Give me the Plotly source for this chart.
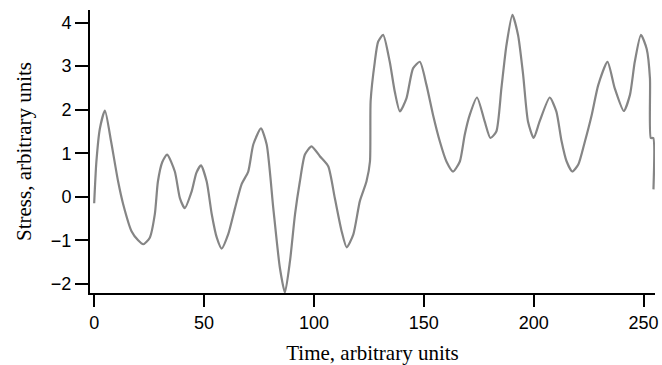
import plotly.graph_objects as go

# (time, stress)
time_vals = [0, 1, 2.6, 4.9, 7.7, 10.9, 13.2, 17, 20, 22.3, 25.3, 27.6, 29, 31, 33.2,
             36.7, 39, 41.2, 44.4, 46.5, 48.6, 51.2, 53.5, 55.8, 58, 61, 64.1, 67.1,
             70.1, 72.4, 75.9, 78.5, 81.5, 84.5, 86.8, 89.1, 91.4, 93.6, 95.9, 98.9,
             102.7, 106.5, 109.5, 112.6, 114.9, 117.9, 120.9, 123.9, 125.5, 125.8,
             127.7, 129.2, 131.5, 134.5, 136.8, 139.1, 142.1, 145.1, 148.2, 151.2,
             154.2, 157.3, 160.3, 163.3, 166.4, 168.6, 170.9, 174.2, 177.7, 180.3,
             183, 185.3, 187.6, 190.3, 192.9, 195.2, 197.4, 200, 202.7, 207.3, 210.3,
             212.6, 215, 217.6, 220.3, 223.3, 226.4, 229.4, 233.6, 236.9, 241, 243.8,
             246, 248.8, 251.4, 252.9, 253.3, 254.4, 254.5]
stress_vals = [-0.15, 0.8, 1.57, 1.98, 1.27, 0.35, -0.17, -0.79, -1.0, -1.09, -0.94, -0.4,
               0.35, 0.8, 0.97, 0.58, -0.03, -0.26, 0.13, 0.55, 0.72, 0.35, -0.4, -0.94,
               -1.19, -0.86, -0.26, 0.29, 0.58, 1.2, 1.57, 1.2, -0.26, -1.63, -2.2,
               -1.48, -0.4, 0.35, 0.97, 1.16, 0.93, 0.7, -0.03, -0.79, -1.16, -0.87,
               -0.1, 0.35, 0.81, 2.2, 3.1, 3.56, 3.72, 3.1, 2.41, 1.96, 2.26, 2.95,
               3.1, 2.57, 1.88, 1.27, 0.81, 0.58, 0.81, 1.42, 1.88, 2.28, 1.73, 1.35,
               1.5, 2.49, 3.48, 4.18, 3.71, 2.8, 1.73, 1.35, 1.73, 2.28, 1.96, 1.3,
               0.81, 0.58, 0.74, 1.27, 1.88, 2.57, 3.1, 2.49, 1.97, 2.34, 3.1, 3.72,
               3.4, 2.72, 1.35, 1.35, 0.17]

x_ticks = [0, 50, 100, 150, 200, 250]
y_ticks = [-2, -1, 0, 1, 2, 3, 4]
y_tick_labels = ["\u22122", "\u22121", "0", "1", "2", "3", "4"]

fig = go.Figure()
fig.add_trace(go.Scatter(x=time_vals, y=stress_vals, mode="lines",
                         line=dict(color="#858585", width=2.2, shape="spline",
                                   smoothing=0.6),
                         showlegend=False, hoverinfo="skip"))

fig.update_layout(
    width=662, height=365,
    margin=dict(l=90, r=7, t=10, b=72),
    paper_bgcolor="white", plot_bgcolor="white",
    xaxis=dict(range=[-1.9, 255.2], tickvals=x_ticks, ticks="outside", ticklen=12,
               tickwidth=2, tickcolor="black", showline=True, linewidth=2,
               linecolor="black", showgrid=False, zeroline=False,
               tickfont=dict(family="Liberation Sans, Arial", size=18, color="black"),
               title=dict(text="Time, arbitrary units", standoff=14,
                          font=dict(family="Liberation Serif, Times New Roman", size=21,
                                    color="black")),
               automargin=False),
    yaxis=dict(range=[-2.21, 4.29], tickvals=y_ticks, ticktext=y_tick_labels,
               ticks="outside", ticklen=13, tickwidth=2, tickcolor="black",
               showline=True, linewidth=2, linecolor="black", showgrid=False,
               zeroline=False,
               tickfont=dict(family="Liberation Sans, Arial", size=18, color="black"),
               title=dict(text="Stress, arbitrary units", standoff=14,
                          font=dict(family="Liberation Serif, Times New Roman", size=21,
                                    color="black")),
               automargin=False),
)

fig.write_html("out.html")
